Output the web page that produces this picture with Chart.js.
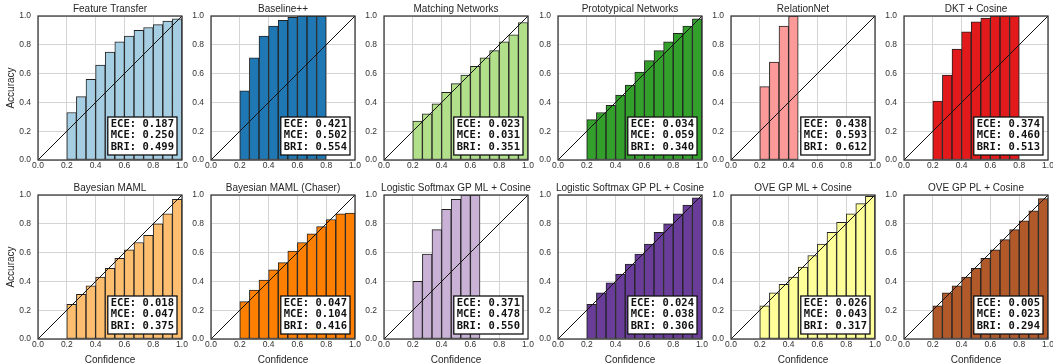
<!DOCTYPE html>
<html>
<head>
<meta charset="utf-8">
<script src="https://cdn.jsdelivr.net/npm/chart.js@4.4.1/dist/chart.umd.min.js"></script>
<style>
  html, body { margin: 0; padding: 0; background: #fff; overflow: hidden; }
  #wrap { position: relative; width: 1053px; height: 364px; }
  .panel { position: absolute; }
</style>
</head>
<body>
<div id="wrap"></div>
<script>
// --- DATA ---
// 15 confidence bins of width 1/15; the first three are always empty
const binStarts = ['0.00', '0.07', '0.13', '0.20', '0.27', '0.33', '0.40', '0.47',
                   '0.53', '0.60', '0.67', '0.73', '0.80', '0.87', '0.93'];
const firstBin = 3;
const tickValues = [0, 0.2, 0.4, 0.6, 0.8, 1.0];

const panelTitles = ['Feature Transfer', 'Baseline++', 'Matching Networks', 'Prototypical Networks',
                     'RelationNet', 'DKT + Cosine', 'Bayesian MAML', 'Bayesian MAML (Chaser)',
                     'Logistic Softmax GP ML + Cosine', 'Logistic Softmax GP PL + Cosine',
                     'OVE GP ML + Cosine', 'OVE GP PL + Cosine'];
const panelColors = ['#a6cee3', '#1f78b4', '#b2df8a', '#33a02c', '#fb9a99', '#e31a1c',
                     '#fdbf6f', '#ff7f00', '#cab2d6', '#6a3d9a', '#ffff99', '#b15928'];

// accuracy per bin, starting at the 0.2 bin
const featureTransfer = [0.33, 0.44, 0.56, 0.66, 0.75, 0.82, 0.86, 0.90, 0.92, 0.94, 0.965, 0.98];
const baselinePP      = [0.48, 0.71, 0.86, 0.93, 0.97, 0.99, 1.0, 1.0, 1.0];
const matchingNets    = [0.27, 0.32, 0.39, 0.47, 0.53, 0.59, 0.65, 0.71, 0.76, 0.82, 0.87, 0.955];
const protoNets       = [0.28, 0.33, 0.38, 0.45, 0.52, 0.61, 0.69, 0.76, 0.82, 0.88, 0.93, 0.98];
const relationNet     = [0.51, 0.68, 0.93, 1.0];
const dktCosine       = [0.41, 0.59, 0.77, 0.89, 0.96, 0.985, 1.0, 1.0, 1.0];
const bayesMaml       = [0.24, 0.31, 0.37, 0.43, 0.49, 0.56, 0.62, 0.67, 0.72, 0.80, 0.87, 0.97];
const bayesChaser     = [0.26, 0.34, 0.41, 0.48, 0.53, 0.61, 0.67, 0.73, 0.78, 0.83, 0.87, 0.875];
const lsGpMl          = [0.40, 0.59, 0.76, 0.90, 0.97, 1.0, 1.0];
const lsGpPl          = [0.24, 0.32, 0.39, 0.45, 0.52, 0.59, 0.66, 0.74, 0.80, 0.87, 0.93, 0.98];
const oveGpMl         = [0.23, 0.32, 0.38, 0.43, 0.50, 0.58, 0.66, 0.74, 0.81, 0.87, 0.94, 0.99];
const oveGpPl         = [0.23, 0.32, 0.37, 0.43, 0.49, 0.56, 0.62, 0.69, 0.76, 0.82, 0.89, 0.975];

const eceValues = ['0.187', '0.421', '0.023', '0.034', '0.438', '0.374', '0.018', '0.047', '0.371', '0.024', '0.026', '0.005'];
const mceValues = ['0.250', '0.502', '0.031', '0.059', '0.593', '0.460', '0.047', '0.104', '0.478', '0.038', '0.043', '0.023'];
const briValues = ['0.499', '0.554', '0.351', '0.340', '0.612', '0.513', '0.375', '0.416', '0.550', '0.306', '0.317', '0.294'];

const accuracy = [featureTransfer, baselinePP, matchingNets, protoNets, relationNet, dktCosine,
                  bayesMaml, bayesChaser, lsGpMl, lsGpPl, oveGpMl, oveGpPl];

// --- LAYOUT ---
const PLOT_W = 144, PLOT_H = 144;
const Y_AXIS_W = 37, TITLE_H = 13, PAD_RIGHT = 10;
const FONT = '"Liberation Sans", Arial, sans-serif';

// title over the plot, frame and metrics box drawn on top of the bars
const panelDecor = {
    id: 'panelDecor',
    afterDatasetsDraw(chart, args, opts) {
        const { ctx, chartArea: a } = chart;
        ctx.save();
        ctx.strokeStyle = '#333';
        ctx.lineWidth = 1.25;
        ctx.strokeRect(a.left, a.top, a.right - a.left, a.bottom - a.top);

        ctx.fillStyle = '#262626';
        ctx.font = '10px ' + FONT;
        ctx.textAlign = 'center';
        ctx.textBaseline = 'middle';
        ctx.fillText(opts.title, (a.left + a.right) / 2, a.top - 7);

        const lines = opts.lines;
        ctx.font = 'bold 10.5px "DejaVu Sans Mono", monospace';
        const textW = Math.max(...lines.map(l => ctx.measureText(l).width));
        const boxW = textW + 6, boxH = 38;
        const bx = a.right - 5 - boxW, by = a.bottom - 5 - boxH;
        ctx.fillStyle = '#fff';
        ctx.fillRect(bx, by, boxW, boxH);
        ctx.strokeStyle = '#111';
        ctx.lineWidth = 1.3;
        ctx.strokeRect(bx, by, boxW, boxH);
        ctx.fillStyle = '#111';
        ctx.textAlign = 'left';
        lines.forEach((l, k) => ctx.fillText(l, bx + 3, by + 7 + k * 11.7));
        ctx.restore();
    }
};

function buildPanel(i) {
    const col = i % 6, row = Math.floor(i / 6);
    const plotLeft = 37.7 + 173.27 * col;
    const plotTop = row === 0 ? 16 : 195;
    const xAxisH = row === 0 ? 14 : 27;

    const left = Math.round(plotLeft - Y_AXIS_W);
    const top = plotTop - TITLE_H;
    const w = Y_AXIS_W + PLOT_W + PAD_RIGHT;
    const h = TITLE_H + PLOT_H + xAxisH;

    const div = document.createElement('div');
    div.className = 'panel';
    div.style.left = left + 'px';
    div.style.top = top + 'px';
    const canvas = document.createElement('canvas');
    canvas.width = w; canvas.height = h;
    canvas.style.width = w + 'px'; canvas.style.height = h + 'px';
    div.appendChild(canvas);
    document.getElementById('wrap').appendChild(div);

    const barData = binStarts.map((_, k) => {
        const v = accuracy[i][k - firstBin];
        return v === undefined ? null : v;
    });

    const tickFmt = v => Number(v).toFixed(1);

    new Chart(canvas, {
        type: 'bar',
        data: {
            labels: binStarts,
            datasets: [
                {
                    type: 'line',
                    xAxisID: 'x2',
                    data: [{ x: 0, y: 0 }, { x: 1, y: 1 }],
                    borderColor: '#111',
                    borderWidth: 1,
                    pointRadius: 0,
                    order: 0
                },
                {
                    type: 'bar',
                    xAxisID: 'x',
                    data: barData,
                    backgroundColor: panelColors[i],
                    borderColor: '#222',
                    borderWidth: 1,
                    borderSkipped: false,
                    barPercentage: 1,
                    categoryPercentage: 1,
                    grouped: false,
                    order: 1
                }
            ]
        },
        options: {
            responsive: false,
            animation: false,
            devicePixelRatio: 1,
            datasets: { bar: { barPercentage: 1, categoryPercentage: 1 } },
            layout: { padding: { left: 0, right: PAD_RIGHT, top: TITLE_H, bottom: 0 } },
            plugins: {
                legend: { display: false },
                tooltip: { enabled: false },
                title: { display: false },
                panelDecor: {
                    title: panelTitles[i],
                    lines: ['ECE: ' + eceValues[i], 'MCE: ' + mceValues[i], 'BRI: ' + briValues[i]]
                }
            },
            scales: {
                x: { type: 'category', display: false, offset: true, ticks: { autoSkip: false } },
                x2: {
                    type: 'linear',
                    position: 'bottom',
                    offset: false,
                    min: 0, max: 1,
                    afterBuildTicks: s => { s.ticks = tickValues.map(v => ({ value: v })); },
                    afterFit: s => { s.height = xAxisH; },
                    grid: { color: '#d4d4d4', lineWidth: 1, drawTicks: false, offset: false },
                    border: { display: false },
                    ticks: { color: '#333', padding: 1, maxRotation: 0, autoSkip: false, font: { family: FONT, size: 8.5 }, callback: tickFmt },
                    title: {
                        display: row === 1,
                        text: 'Confidence',
                        color: '#262626',
                        font: { family: FONT, size: 10 },
                        padding: { top: 0, bottom: 0 }
                    }
                },
                y: {
                    min: 0, max: 1,
                    afterBuildTicks: s => { s.ticks = tickValues.map(v => ({ value: v })); },
                    afterFit: s => { s.width = Y_AXIS_W; },
                    grid: { color: '#d4d4d4', lineWidth: 1, drawTicks: false },
                    border: { display: false },
                    ticks: { color: '#333', padding: 7, font: { family: FONT, size: 8.5 }, callback: tickFmt },
                    title: {
                        display: col === 0,
                        text: 'Accuracy',
                        color: '#262626',
                        font: { family: FONT, size: 10 },
                        padding: { top: 4, bottom: 0 }
                    }
                }
            }
        },
        plugins: [panelDecor]
    });
}

panelTitles.forEach((_, i) => buildPanel(i));
</script>
</body>
</html>
